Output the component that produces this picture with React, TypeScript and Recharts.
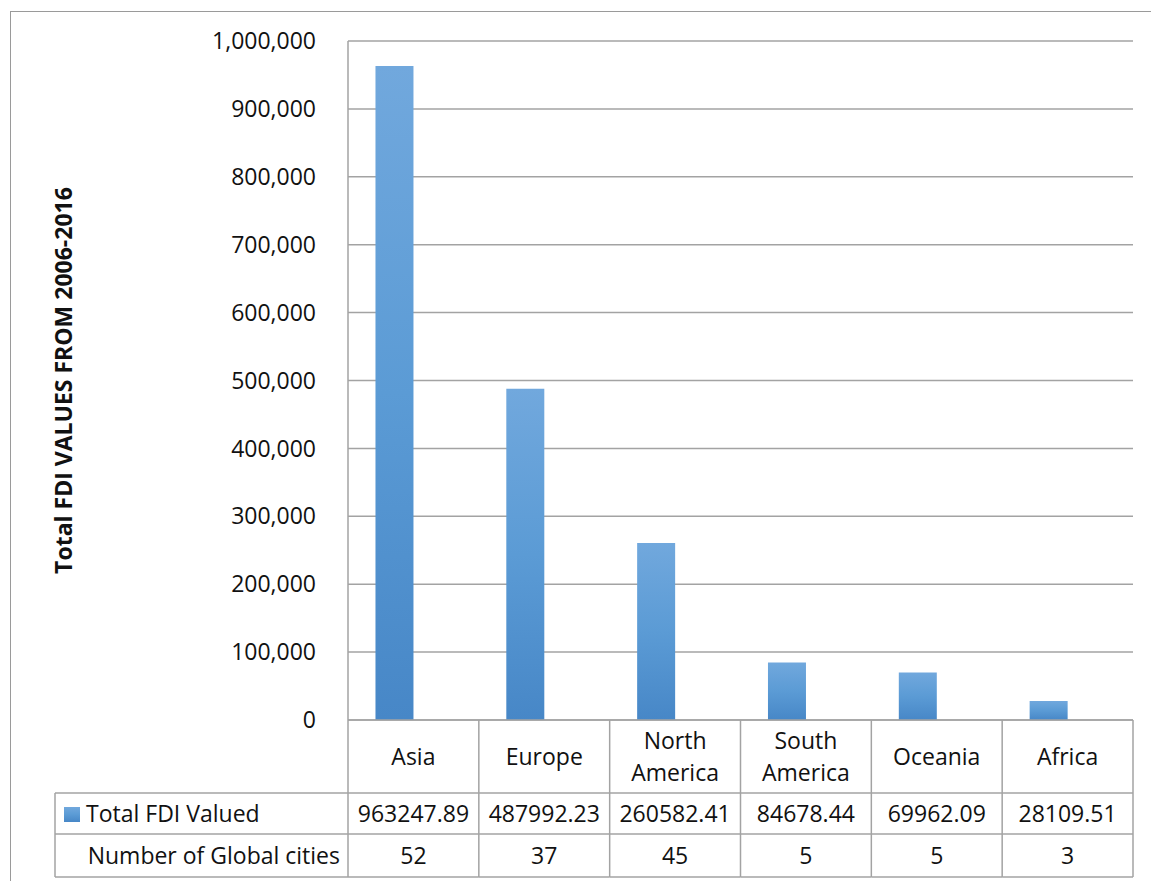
import React from "react";
import { BarChart, Bar, XAxis, YAxis, CartesianGrid, Label } from "recharts";

// Regions and their FDI totals / global city counts
const regions = ["Asia", "Europe", "North America", "South America", "Oceania", "Africa"];
const regionLines = [["Asia"], ["Europe"], ["North", "America"], ["South", "America"], ["Oceania"], ["Africa"]];
const fdiValues = [963247.89, 487992.23, 260582.41, 84678.44, 69962.09, 28109.51];
const fdiLabels = ["963247.89", "487992.23", "260582.41", "84678.44", "69962.09", "28109.51"];
const globalCities = [52, 37, 45, 5, 5, 3];
const yTicks = [0, 100000, 200000, 300000, 400000, 500000, 600000, 700000, 800000, 900000, 1000000];

const seriesNames = ["Total FDI Valued", "Number of Global cities"];
const yTitle = "Total FDI VALUES FROM 2006-2016";

const data = regions.map((region, i) => ({
  region,
  fdi: fdiValues[i],
  cities: globalCities[i],
}));

const W = 1151;
const H = 881;
const MARGIN = { top: 41, right: 18, bottom: 0, left: 0 };
const Y_AXIS_W = 348;
const X_AXIS_H = 161;
const PLOT_W = W - MARGIN.left - MARGIN.right - Y_AXIS_W;
const BAND = PLOT_W / regions.length;

const FONT = "'Open Sans', 'DejaVu Sans', sans-serif";
const LINE = "#a3a3a3";
const TEXT_SIZE = 23;

// Rows of the data table under the axis (offsets from the axis line)
const ROW_VALUES = 73;
const ROW_CITIES = 114;
const ROW_END = 157;
const LABEL_LEFT = 55;

const TableTick = (props: any) => {
  const { x, y, payload } = props;
  const i = payload.index;
  const left = x - BAND / 2;
  const right = x + BAND / 2;
  const lines = regionLines[i];
  const catMid = y + ROW_VALUES / 2 - 1;
  const lh = 32;
  return (
    <g>
      {lines.map((t, k) => (
        <text
          key={k}
          x={x}
          y={catMid + (k - (lines.length - 1) / 2) * lh}
          textAnchor="middle"
          dominantBaseline="central"
          fontFamily={FONT}
          fontSize={TEXT_SIZE}
          fill="#111"
        >
          {t}
        </text>
      ))}
      <text
        x={x}
        y={y + (ROW_VALUES + ROW_CITIES) / 2 - 1}
        textAnchor="middle"
        dominantBaseline="central"
        fontFamily={FONT}
        fontSize={TEXT_SIZE}
        fill="#111"
      >
        {fdiLabels[i]}
      </text>
      <text
        x={x}
        y={y + (ROW_CITIES + ROW_END) / 2 - 1}
        textAnchor="middle"
        dominantBaseline="central"
        fontFamily={FONT}
        fontSize={TEXT_SIZE}
        fill="#111"
      >
        {globalCities[i]}
      </text>
      <line x1={right} y1={y} x2={right} y2={y + ROW_END} stroke={LINE} strokeWidth={1.5} />
      {i === 0 && (
        <line x1={left} y1={y} x2={left} y2={y + ROW_END} stroke={LINE} strokeWidth={1.5} />
      )}
      <line x1={i === 0 ? LABEL_LEFT : left} y1={y + ROW_VALUES} x2={right} y2={y + ROW_VALUES} stroke={LINE} strokeWidth={1.5} />
      <line x1={i === 0 ? LABEL_LEFT : left} y1={y + ROW_CITIES} x2={right} y2={y + ROW_CITIES} stroke={LINE} strokeWidth={1.5} />
      <line x1={i === 0 ? LABEL_LEFT : left} y1={y + ROW_END} x2={right} y2={y + ROW_END} stroke={LINE} strokeWidth={1.5} />
      {i === 0 && (
        <g>
          <line x1={LABEL_LEFT} y1={y + ROW_VALUES} x2={LABEL_LEFT} y2={y + ROW_END} stroke={LINE} strokeWidth={1.5} />
          <rect x={64} y={y + ROW_VALUES + 14} width={16} height={15} fill="url(#fdiFill)" />
          <text
            x={86}
            y={y + (ROW_VALUES + ROW_CITIES) / 2 - 1}
            dominantBaseline="central"
            fontFamily={FONT}
            fontSize={TEXT_SIZE}
            fill="#111"
          >
            {seriesNames[0]}
          </text>
          <text
            x={340}
            y={y + (ROW_CITIES + ROW_END) / 2 - 1}
            textAnchor="end"
            dominantBaseline="central"
            fontFamily={FONT}
            fontSize={TEXT_SIZE}
            fill="#111"
          >
            {seriesNames[1]}
          </text>
        </g>
      )}
    </g>
  );
};

const YTitle = (props: any) => {
  const vb = props.viewBox || {};
  const cx = 63;
  const cy = (vb.y ?? 41) + (vb.height ?? 679) / 2;
  return (
    <text
      x={cx}
      y={cy}
      transform={`rotate(-90 ${cx} ${cy})`}
      textAnchor="middle"
      dominantBaseline="central"
      fontFamily={FONT}
      fontWeight="bold"
      fontSize={23}
      fill="#111"
    >
      {yTitle}
    </text>
  );
};

export default function App() {
  return (
    <div
      style={{
        position: "absolute",
        left: 0,
        top: 0,
        width: W,
        height: H,
        overflow: "hidden",
        background: "#fff",
      }}
    >
      <div
        style={{
          position: "absolute",
          left: 10,
          top: 11,
          width: W + 20,
          height: H + 20,
          border: "1.5px solid #9a9a9a",
        }}
      />
      <div style={{ position: "absolute", left: 0, top: 0 }}>
        <BarChart
          width={W}
          height={H}
          data={data}
          margin={MARGIN}
          barCategoryGap="21%"
          barGap={0}
        >
          <defs>
            <linearGradient id="fdiFill" x1="0" y1="0" x2="0" y2="1">
              <stop offset="0%" stopColor="#71a8dd" />
              <stop offset="50%" stopColor="#5b9bd5" />
              <stop offset="100%" stopColor="#4787c7" />
            </linearGradient>
          </defs>
          <CartesianGrid vertical={false} stroke={LINE} strokeWidth={1.5} />
          <XAxis
            dataKey="region"
            height={X_AXIS_H}
            axisLine={{ stroke: LINE, strokeWidth: 1.5 }}
            tickLine={false}
            tickSize={0}
            tickMargin={0}
            interval={0}
            tick={<TableTick />}
          />
          <YAxis
            width={Y_AXIS_W}
            domain={[0, 1000000]}
            ticks={yTicks}
            interval={0}
            axisLine={{ stroke: LINE, strokeWidth: 1.5 }}
            tickLine={false}
            tickSize={0}
            tickMargin={32}
            tickFormatter={(v: number) => v.toLocaleString("en-US")}
            tick={{ fill: "#111", fontSize: TEXT_SIZE, fontFamily: FONT }}
          >
            <Label content={<YTitle />} />
          </YAxis>
          <Bar dataKey="fdi" name={seriesNames[0]} fill="url(#fdiFill)" isAnimationActive={false} />
          <Bar dataKey="cities" name={seriesNames[1]} fill="transparent" isAnimationActive={false} />
        </BarChart>
      </div>
    </div>
  );
}
